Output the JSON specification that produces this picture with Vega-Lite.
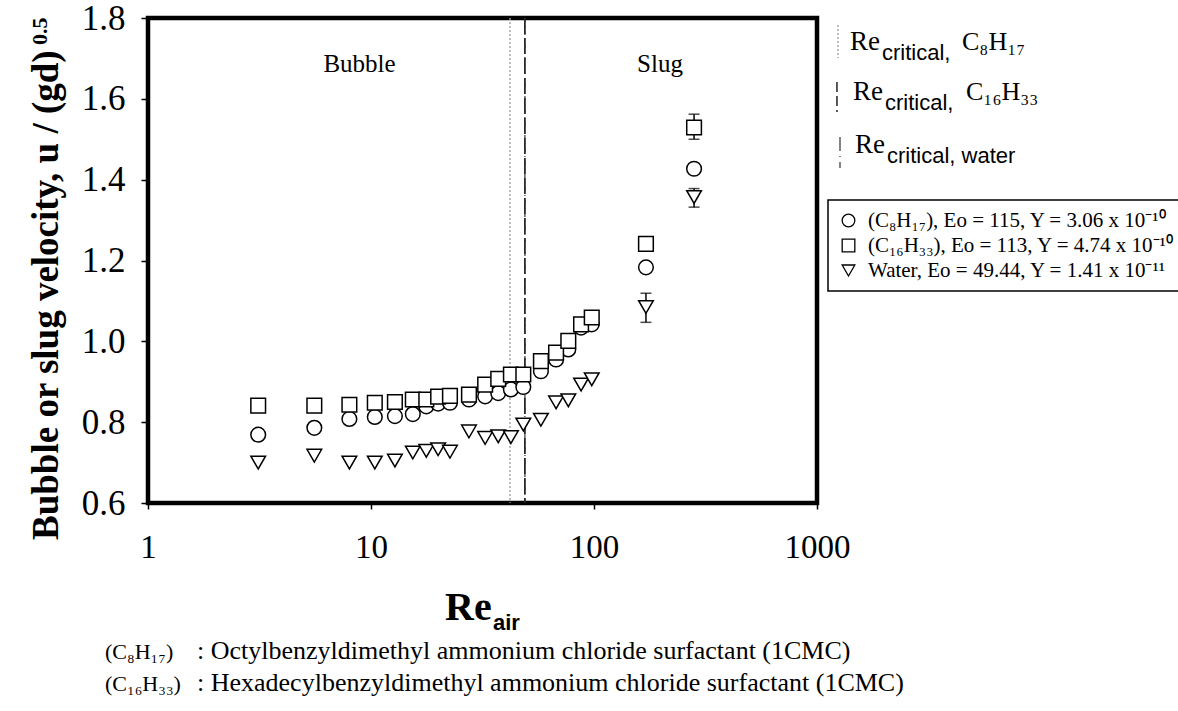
{
  "$schema": "https://vega.github.io/schema/vega-lite/v6.json",
  "width": 669,
  "height": 485,
  "autosize": {"type": "none"},
  "padding": {"left": 148, "top": 18, "right": 361, "bottom": 208},
  "background": "white",
  "datasets": {
    "pts": [
      {"series": "C8H17", "x": 3.12, "y": 0.769},
      {"series": "C8H17", "x": 5.57, "y": 0.786},
      {"series": "C8H17", "x": 8.0, "y": 0.808},
      {"series": "C8H17", "x": 10.4, "y": 0.813},
      {"series": "C8H17", "x": 12.8, "y": 0.815},
      {"series": "C8H17", "x": 15.4, "y": 0.82},
      {"series": "C8H17", "x": 17.7, "y": 0.839},
      {"series": "C8H17", "x": 20.0, "y": 0.846},
      {"series": "C8H17", "x": 22.6, "y": 0.848},
      {"series": "C8H17", "x": 27.5, "y": 0.856},
      {"series": "C8H17", "x": 32.5, "y": 0.864},
      {"series": "C8H17", "x": 37.2, "y": 0.872},
      {"series": "C8H17", "x": 42.4, "y": 0.881},
      {"series": "C8H17", "x": 48.2, "y": 0.887},
      {"series": "C8H17", "x": 57.8, "y": 0.926},
      {"series": "C8H17", "x": 67.6, "y": 0.955},
      {"series": "C8H17", "x": 76.7, "y": 0.98},
      {"series": "C8H17", "x": 87.5, "y": 1.034},
      {"series": "C8H17", "x": 97.7, "y": 1.042},
      {"series": "C8H17", "x": 171, "y": 1.183},
      {"series": "C8H17", "x": 281, "y": 1.427},
      {"series": "C16H33", "x": 3.12, "y": 0.841},
      {"series": "C16H33", "x": 5.57, "y": 0.841},
      {"series": "C16H33", "x": 8.0, "y": 0.843},
      {"series": "C16H33", "x": 10.4, "y": 0.848},
      {"series": "C16H33", "x": 12.8, "y": 0.85},
      {"series": "C16H33", "x": 15.4, "y": 0.856},
      {"series": "C16H33", "x": 17.7, "y": 0.856},
      {"series": "C16H33", "x": 20.0, "y": 0.863},
      {"series": "C16H33", "x": 22.6, "y": 0.865},
      {"series": "C16H33", "x": 27.5, "y": 0.868},
      {"series": "C16H33", "x": 32.5, "y": 0.893},
      {"series": "C16H33", "x": 37.2, "y": 0.907},
      {"series": "C16H33", "x": 42.4, "y": 0.918},
      {"series": "C16H33", "x": 48.2, "y": 0.918},
      {"series": "C16H33", "x": 57.8, "y": 0.951},
      {"series": "C16H33", "x": 67.6, "y": 0.972},
      {"series": "C16H33", "x": 76.7, "y": 1.001},
      {"series": "C16H33", "x": 87.5, "y": 1.042},
      {"series": "C16H33", "x": 97.7, "y": 1.059},
      {"series": "C16H33", "x": 171, "y": 1.241},
      {"series": "C16H33", "x": 281, "y": 1.529, "lo": 1.5, "hi": 1.562},
      {"series": "Water", "x": 3.12, "y": 0.7},
      {"series": "Water", "x": 5.57, "y": 0.717},
      {"series": "Water", "x": 8.0, "y": 0.7},
      {"series": "Water", "x": 10.4, "y": 0.7},
      {"series": "Water", "x": 12.8, "y": 0.705},
      {"series": "Water", "x": 15.4, "y": 0.725},
      {"series": "Water", "x": 17.7, "y": 0.729},
      {"series": "Water", "x": 20.0, "y": 0.733},
      {"series": "Water", "x": 22.6, "y": 0.727},
      {"series": "Water", "x": 27.5, "y": 0.777},
      {"series": "Water", "x": 32.5, "y": 0.761},
      {"series": "Water", "x": 37.2, "y": 0.765},
      {"series": "Water", "x": 42.4, "y": 0.763},
      {"series": "Water", "x": 48.2, "y": 0.794},
      {"series": "Water", "x": 57.8, "y": 0.806},
      {"series": "Water", "x": 67.6, "y": 0.849},
      {"series": "Water", "x": 76.7, "y": 0.854},
      {"series": "Water", "x": 87.5, "y": 0.893},
      {"series": "Water", "x": 97.7, "y": 0.906},
      {"series": "Water", "x": 171, "y": 1.085, "lo": 1.047, "hi": 1.119},
      {"series": "Water", "x": 281, "y": 1.357, "lo": 1.332, "hi": 1.378}
    ]
  },
  "layer": [
    {
      "data": {"values": [{}]},
      "mark": {"type": "rule", "color": "#999999", "strokeWidth": 1.3, "strokeDash": [2, 2]},
      "encoding": {"x": {"datum": 42, "type": "quantitative", "scale": {"type": "log", "domain": [1, 1000], "nice": false}, "title": null}}
    },
    {
      "data": {"values": [{}]},
      "mark": {"type": "rule", "color": "black", "strokeWidth": 1.5, "strokeDash": [16, 4]},
      "encoding": {"x": {"datum": 49, "type": "quantitative", "scale": {"type": "log", "domain": [1, 1000], "nice": false}, "title": null}}
    },
    {
      "data": {"values": [{}]},
      "mark": {"type": "rule", "color": "#333333", "strokeWidth": 1.2, "strokeDash": [4, 4, 1, 4]},
      "encoding": {"x": {"datum": 49, "type": "quantitative", "scale": {"type": "log", "domain": [1, 1000], "nice": false}, "title": null}}
    },
    {
      "data": {"name": "pts"},
      "transform": [{"filter": "isValid(datum.lo)"}],
      "mark": {"type": "rule", "color": "black", "strokeWidth": 1.5},
      "encoding": {
        "x": {"field": "x", "type": "quantitative", "scale": {"type": "log", "domain": [1, 1000], "nice": false}, "title": null},
        "y": {"field": "lo", "type": "quantitative", "scale": {"domain": [0.6, 1.8], "nice": false, "zero": false}, "title": null},
        "y2": {"field": "hi"}
      }
    },
    {
      "data": {"name": "pts"},
      "transform": [{"filter": "isValid(datum.lo)"}],
      "mark": {"type": "tick", "orient": "horizontal", "size": 11, "thickness": 1.5, "color": "black"},
      "encoding": {
        "x": {"field": "x", "type": "quantitative", "scale": {"type": "log", "domain": [1, 1000], "nice": false}, "title": null},
        "y": {"field": "lo", "type": "quantitative", "scale": {"domain": [0.6, 1.8], "nice": false, "zero": false}, "title": null}
      }
    },
    {
      "data": {"name": "pts"},
      "transform": [{"filter": "isValid(datum.hi)"}],
      "mark": {"type": "tick", "orient": "horizontal", "size": 11, "thickness": 1.5, "color": "black"},
      "encoding": {
        "x": {"field": "x", "type": "quantitative", "scale": {"type": "log", "domain": [1, 1000], "nice": false}, "title": null},
        "y": {"field": "hi", "type": "quantitative", "scale": {"domain": [0.6, 1.8], "nice": false, "zero": false}, "title": null}
      }
    },
    {
      "data": {"name": "pts"},
      "mark": {"type": "point", "filled": false, "fill": "white", "stroke": "black", "color": "black", "strokeWidth": 1.5, "size": 215, "opacity": 1, "fillOpacity": 1},
      "encoding": {
        "x": {"field": "x", "type": "quantitative", "scale": {"type": "log", "domain": [1, 1000], "nice": false}, "title": null,
              "axis": {"values": [1, 10, 100, 1000], "format": "d", "title": null}},
        "y": {"field": "y", "type": "quantitative", "scale": {"domain": [0.6, 1.8], "nice": false, "zero": false}, "title": null,
              "axis": {"values": [0.6, 0.8, 1.0, 1.2, 1.4, 1.6, 1.8], "format": ".1f", "title": null}},
        "shape": {"field": "series", "type": "nominal",
                  "scale": {"domain": ["C8H17", "C16H33", "Water"], "range": ["circle", "square", "triangle-down"]},
                  "legend": {"title": null, "symbolType": "circle",
                             "labelExpr": "datum.label == 'C8H17' ? '(C₈H₁₇), Eo = 115, Y = 3.06 x 10⁻¹⁰' : datum.label == 'C16H33' ? '(C₁₆H₃₃), Eo = 113, Y = 4.74 x 10⁻¹⁰' : 'Water, Eo = 49.44, Y = 1.41 x 10⁻¹¹'",
                             "encode": {"symbols": {"enter": {"fill": {"value": "white"}, "stroke": {"value": "black"}, "strokeWidth": {"value": 1.3}, "opacity": {"value": 1}, "size": {"value": 160}},
                                                    "update": {"fill": {"value": "white"}, "stroke": {"value": "black"}, "strokeWidth": {"value": 1.3}, "opacity": {"value": 1}, "size": {"value": 160}}}}}}
      }
    },
    {
      "data": {"values": [{}]},
      "mark": {"type": "text", "text": "Bubble", "font": "Liberation Serif", "fontSize": 25, "align": "center", "baseline": "alphabetic", "color": "black"},
      "encoding": {
        "x": {"datum": 8.88, "type": "quantitative", "scale": {"type": "log", "domain": [1, 1000], "nice": false}, "title": null},
        "y": {"datum": 1.666, "type": "quantitative", "scale": {"domain": [0.6, 1.8], "nice": false, "zero": false}, "title": null}
      }
    },
    {
      "data": {"values": [{}]},
      "mark": {"type": "text", "text": "Slug", "font": "Liberation Serif", "fontSize": 25, "align": "center", "baseline": "alphabetic", "color": "black"},
      "encoding": {
        "x": {"datum": 197.7, "type": "quantitative", "scale": {"type": "log", "domain": [1, 1000], "nice": false}, "title": null},
        "y": {"datum": 1.666, "type": "quantitative", "scale": {"domain": [0.6, 1.8], "nice": false, "zero": false}, "title": null}
      }
    },
    {
      "data": {"values": [{}]},
      "mark": {"type": "rule", "color": "#999999", "strokeWidth": 1.3, "strokeDash": [2, 2]},
      "encoding": {
        "x": {"datum": 1242, "type": "quantitative", "scale": {"type": "log", "domain": [1, 1000], "nice": false}, "title": null},
        "y": {"datum": 1.7826, "type": "quantitative", "scale": {"domain": [0.6, 1.8], "nice": false, "zero": false}, "title": null},
        "y2": {"datum": 1.701}
      }
    },
    {
      "data": {"values": [{}]},
      "mark": {"type": "rule", "color": "black", "strokeWidth": 1.3, "strokeDash": [10, 4]},
      "encoding": {
        "x": {"datum": 1229, "type": "quantitative", "scale": {"type": "log", "domain": [1, 1000], "nice": false}, "title": null},
        "y": {"datum": 1.6416, "type": "quantitative", "scale": {"domain": [0.6, 1.8], "nice": false, "zero": false}, "title": null},
        "y2": {"datum": 1.5673}
      }
    },
    {
      "data": {"values": [{}]},
      "mark": {"type": "rule", "color": "#333333", "strokeWidth": 1.2, "strokeDash": [14, 5, 1, 5]},
      "encoding": {
        "x": {"datum": 1268, "type": "quantitative", "scale": {"type": "log", "domain": [1, 1000], "nice": false}, "title": null},
        "y": {"datum": 1.5055, "type": "quantitative", "scale": {"domain": [0.6, 1.8], "nice": false, "zero": false}, "title": null},
        "y2": {"datum": 1.4288}
      }
    },
    {
      "data": {"values": [{}]},
      "mark": {"type": "text", "text": "Re", "font": "Liberation Serif", "fontSize": 27, "align": "left", "baseline": "alphabetic", "color": "black"},
      "encoding": {
        "x": {"datum": 1406, "type": "quantitative", "scale": {"type": "log", "domain": [1, 1000], "nice": false}, "title": null},
        "y": {"datum": 1.7207, "type": "quantitative", "scale": {"domain": [0.6, 1.8], "nice": false, "zero": false}, "title": null}
      }
    },
    {
      "data": {"values": [{}]},
      "mark": {"type": "text", "text": "critical,", "font": "Liberation Sans", "fontSize": 22, "align": "left", "baseline": "alphabetic", "color": "black"},
      "encoding": {
        "x": {"datum": 1956, "type": "quantitative", "scale": {"type": "log", "domain": [1, 1000], "nice": false}, "title": null},
        "y": {"datum": 1.696, "type": "quantitative", "scale": {"domain": [0.6, 1.8], "nice": false, "zero": false}, "title": null}
      }
    },
    {
      "data": {"values": [{}]},
      "mark": {"type": "text", "text": "C₈H₁₇", "font": "Liberation Serif", "fontSize": 26, "align": "left", "baseline": "alphabetic", "color": "black"},
      "encoding": {
        "x": {"datum": 4469, "type": "quantitative", "scale": {"type": "log", "domain": [1, 1000], "nice": false}, "title": null},
        "y": {"datum": 1.7207, "type": "quantitative", "scale": {"domain": [0.6, 1.8], "nice": false, "zero": false}, "title": null}
      }
    },
    {
      "data": {"values": [{}]},
      "mark": {"type": "text", "text": "Re", "font": "Liberation Serif", "fontSize": 27, "align": "left", "baseline": "alphabetic", "color": "black"},
      "encoding": {
        "x": {"datum": 1450, "type": "quantitative", "scale": {"type": "log", "domain": [1, 1000], "nice": false}, "title": null},
        "y": {"datum": 1.597, "type": "quantitative", "scale": {"domain": [0.6, 1.8], "nice": false, "zero": false}, "title": null}
      }
    },
    {
      "data": {"values": [{}]},
      "mark": {"type": "text", "text": "critical,", "font": "Liberation Sans", "fontSize": 22, "align": "left", "baseline": "alphabetic", "color": "black"},
      "encoding": {
        "x": {"datum": 2018, "type": "quantitative", "scale": {"type": "log", "domain": [1, 1000], "nice": false}, "title": null},
        "y": {"datum": 1.5723, "type": "quantitative", "scale": {"domain": [0.6, 1.8], "nice": false, "zero": false}, "title": null}
      }
    },
    {
      "data": {"values": [{}]},
      "mark": {"type": "text", "text": "C₁₆H₃₃", "font": "Liberation Serif", "fontSize": 26, "align": "left", "baseline": "alphabetic", "color": "black"},
      "encoding": {
        "x": {"datum": 4658, "type": "quantitative", "scale": {"type": "log", "domain": [1, 1000], "nice": false}, "title": null},
        "y": {"datum": 1.597, "type": "quantitative", "scale": {"domain": [0.6, 1.8], "nice": false, "zero": false}, "title": null}
      }
    },
    {
      "data": {"values": [{}]},
      "mark": {"type": "text", "text": "Re", "font": "Liberation Serif", "fontSize": 27, "align": "left", "baseline": "alphabetic", "color": "black"},
      "encoding": {
        "x": {"datum": 1481, "type": "quantitative", "scale": {"type": "log", "domain": [1, 1000], "nice": false}, "title": null},
        "y": {"datum": 1.4659, "type": "quantitative", "scale": {"domain": [0.6, 1.8], "nice": false, "zero": false}, "title": null}
      }
    },
    {
      "data": {"values": [{}]},
      "mark": {"type": "text", "text": "critical, water", "font": "Liberation Sans", "fontSize": 22, "align": "left", "baseline": "alphabetic", "color": "black"},
      "encoding": {
        "x": {"datum": 2060, "type": "quantitative", "scale": {"type": "log", "domain": [1, 1000], "nice": false}, "title": null},
        "y": {"datum": 1.4412, "type": "quantitative", "scale": {"domain": [0.6, 1.8], "nice": false, "zero": false}, "title": null}
      }
    },
    {
      "data": {"values": [{}]},
      "mark": {"type": "text", "text": "Bubble or slug velocity, u / (gd)", "font": "Liberation Serif", "fontWeight": "bold", "fontSize": 37, "angle": 270, "align": "left", "baseline": "alphabetic", "color": "black"},
      "encoding": {
        "x": {"datum": 0.3948, "type": "quantitative", "scale": {"type": "log", "domain": [1, 1000], "nice": false}, "title": null},
        "y": {"datum": 0.5085, "type": "quantitative", "scale": {"domain": [0.6, 1.8], "nice": false, "zero": false}, "title": null}
      }
    },
    {
      "data": {"values": [{}]},
      "mark": {"type": "text", "text": "0.5", "font": "Liberation Serif", "fontWeight": "bold", "fontSize": 22, "angle": 270, "align": "left", "baseline": "alphabetic", "color": "black"},
      "encoding": {
        "x": {"datum": 0.3524, "type": "quantitative", "scale": {"type": "log", "domain": [1, 1000], "nice": false}, "title": null},
        "y": {"datum": 1.7331, "type": "quantitative", "scale": {"domain": [0.6, 1.8], "nice": false, "zero": false}, "title": null}
      }
    },
    {
      "data": {"values": [{}]},
      "mark": {"type": "text", "text": "Re", "font": "Liberation Serif", "fontWeight": "bold", "fontSize": 40, "align": "left", "baseline": "alphabetic", "color": "black"},
      "encoding": {
        "x": {"datum": 21.47, "type": "quantitative", "scale": {"type": "log", "domain": [1, 1000], "nice": false}, "title": null},
        "y": {"datum": 0.3105, "type": "quantitative", "scale": {"domain": [0.6, 1.8], "nice": false, "zero": false}, "title": null}
      }
    },
    {
      "data": {"values": [{}]},
      "mark": {"type": "text", "text": "air", "font": "Liberation Sans", "fontWeight": "bold", "fontSize": 22, "align": "left", "baseline": "alphabetic", "color": "black"},
      "encoding": {
        "x": {"datum": 35.25, "type": "quantitative", "scale": {"type": "log", "domain": [1, 1000], "nice": false}, "title": null},
        "y": {"datum": 0.2858, "type": "quantitative", "scale": {"domain": [0.6, 1.8], "nice": false, "zero": false}, "title": null}
      }
    },
    {
      "data": {"values": [{}]},
      "mark": {"type": "text", "text": "(C₈H₁₇)", "font": "Liberation Serif", "fontSize": 22, "align": "left", "baseline": "alphabetic", "color": "black"},
      "encoding": {
        "x": {"datum": 0.6415, "type": "quantitative", "scale": {"type": "log", "domain": [1, 1000], "nice": false}, "title": null},
        "y": {"datum": 0.2141, "type": "quantitative", "scale": {"domain": [0.6, 1.8], "nice": false, "zero": false}, "title": null}
      }
    },
    {
      "data": {"values": [{}]},
      "mark": {"type": "text", "text": ": Octylbenzyldimethyl ammonium chloride surfactant (1CMC)", "font": "Liberation Serif", "fontSize": 26, "align": "left", "baseline": "alphabetic", "color": "black"},
      "encoding": {
        "x": {"datum": 1.6586, "type": "quantitative", "scale": {"type": "log", "domain": [1, 1000], "nice": false}, "title": null},
        "y": {"datum": 0.2141, "type": "quantitative", "scale": {"domain": [0.6, 1.8], "nice": false, "zero": false}, "title": null}
      }
    },
    {
      "data": {"values": [{}]},
      "mark": {"type": "text", "text": "(C₁₆H₃₃)", "font": "Liberation Serif", "fontSize": 22, "align": "left", "baseline": "alphabetic", "color": "black"},
      "encoding": {
        "x": {"datum": 0.6415, "type": "quantitative", "scale": {"type": "log", "domain": [1, 1000], "nice": false}, "title": null},
        "y": {"datum": 0.1349, "type": "quantitative", "scale": {"domain": [0.6, 1.8], "nice": false, "zero": false}, "title": null}
      }
    },
    {
      "data": {"values": [{}]},
      "mark": {"type": "text", "text": ": Hexadecylbenzyldimethyl ammonium chloride surfactant (1CMC)", "font": "Liberation Serif", "fontSize": 26, "align": "left", "baseline": "alphabetic", "color": "black"},
      "encoding": {
        "x": {"datum": 1.6586, "type": "quantitative", "scale": {"type": "log", "domain": [1, 1000], "nice": false}, "title": null},
        "y": {"datum": 0.1349, "type": "quantitative", "scale": {"domain": [0.6, 1.8], "nice": false, "zero": false}, "title": null}
      }
    }
  ],
  "config": {
    "view": {"stroke": "black", "strokeWidth": 4.5, "fill": "white"},
    "axis": {"grid": false, "domain": false, "tickColor": "black", "tickWidth": 1.5, "labelColor": "black", "labelFont": "Liberation Serif"},
    "axisX": {"tickSize": 6, "labelFontSize": 33, "labelPadding": 22, "labelFlush": false},
    "axisY": {"tickSize": 7, "labelFontSize": 35, "labelPadding": 16},
    "legend": {
      "orient": "none", "legendX": 680, "legendY": 182,
      "strokeColor": "black", "strokeWidth": 1.5, "padding": 10, "fillColor": "white",
      "labelFont": "Liberation Serif", "labelFontSize": 21, "labelColor": "black", "labelLimit": 0, "labelOffset": 9,
      "symbolSize": 160, "symbolStrokeWidth": 1.3,
      "rowPadding": 3
    }
  }
}
